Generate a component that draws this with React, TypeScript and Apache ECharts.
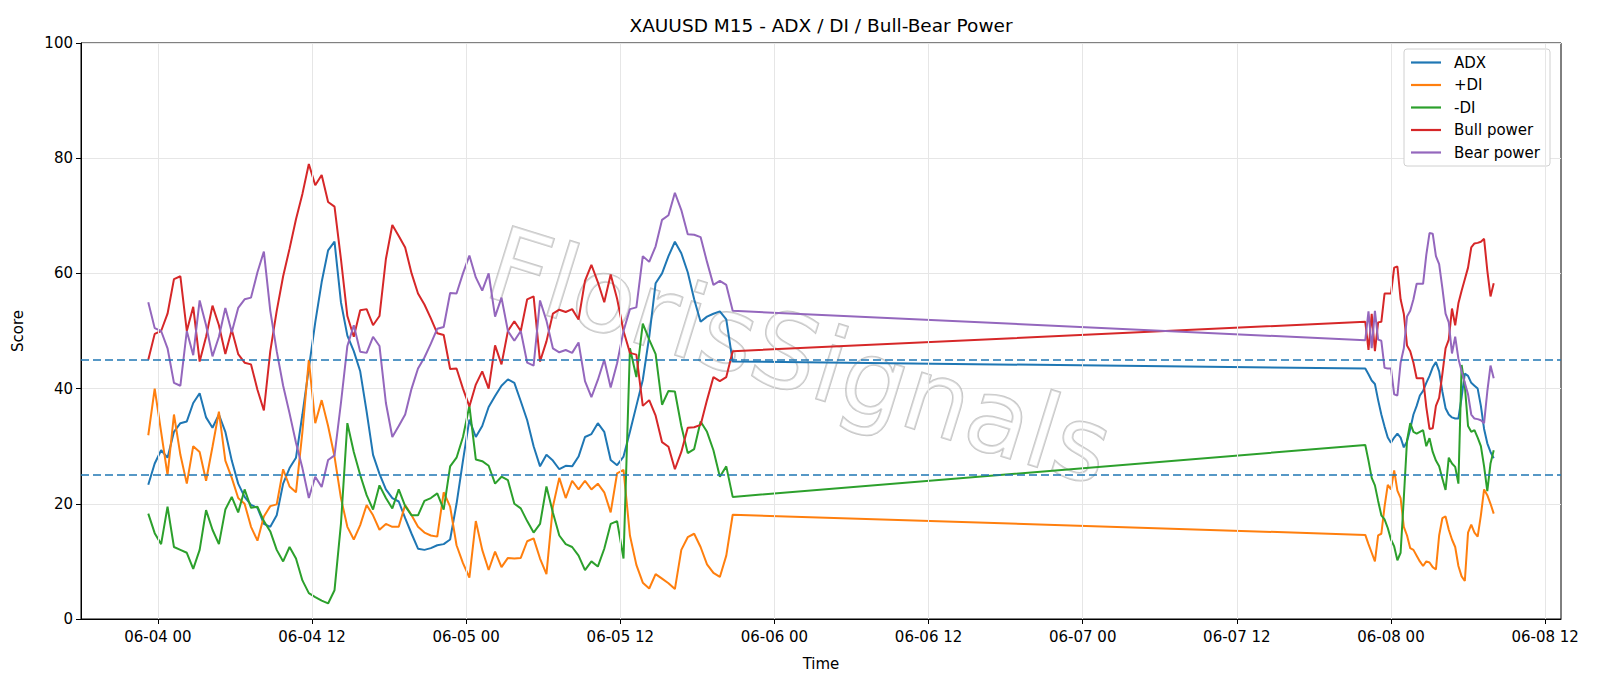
import React, { useEffect, useRef } from "react";
import * as echarts from "echarts";

// ---- time grid ----
const seg1Start = "2026-06-03T23:15:00Z"; // first part, 30-min samples
const seg1StepMin = 30;
const seg2Start = "2026-06-07T22:00:00Z"; // after the weekend gap, 15-min samples
const seg2StepMin = 15;

const xMin = "2026-06-03T18:00:45Z";
const xMax = "2026-06-08T13:14:15Z";
const xTicks = [
  "2026-06-04T00:00:00Z", "2026-06-04T12:00:00Z", "2026-06-05T00:00:00Z",
  "2026-06-05T12:00:00Z", "2026-06-06T00:00:00Z", "2026-06-06T12:00:00Z",
  "2026-06-07T00:00:00Z", "2026-06-07T12:00:00Z", "2026-06-08T00:00:00Z",
  "2026-06-08T12:00:00Z",
];
const yTicks = [0, 20, 40, 60, 80, 100];
const thresholds = [45, 25];

// ---- series values ----
const adx1 = [
  23.3, 27, 29.3, 28, 32.5, 34, 34.3, 37.5, 39.2, 35,
  33.2, 35.5, 32.5, 27.5, 23.5, 21.2, 19.8, 19.3, 16.5, 16,
  18, 23.5, 26.2, 28, 35.5, 43.5, 51.5, 58.5, 64, 65.5,
  55, 49.2, 46.5, 43, 36, 28.5, 25.2, 22.5, 21, 20.4,
  17.5, 14.8, 12.2, 12, 12.3, 12.8, 13, 13.8, 20, 27.5,
  34.6, 31.6, 33.5, 36.8, 38.7, 40.5, 41.6, 41, 37.8, 34.5,
  30, 26.5, 28.5, 27.5, 26, 26.6, 26.5, 28.2, 31.6, 32.1,
  34, 32.5, 27.6, 26.7, 28.2, 32.5, 37, 41.5, 49, 58.3,
  60, 63, 65.5, 63.5, 60.2, 55.5, 51.6, 52.5, 53, 53.4,
  52, 44.7,
];
const adx2 = [
  43.5, 42.5, 41.4, 40.8, 38, 35.5, 33.4, 31.5, 30.6, 31.5,
  32.2, 31.5, 29.8, 30.8, 33, 35.5, 37, 38.8, 39.6, 41,
  42.2, 43.7, 44.6, 43, 39.5, 36.6, 35.5, 35, 34.8, 34.8,
  38.5, 42.6, 42.2, 41, 40.5, 40, 37, 33, 30.5, 29,
  27.9,
];

const pdi1 = [
  31.9, 40, 32.5, 25, 35.5, 28.5, 23.5, 30, 29, 24,
  29.9, 36, 27.5, 24.5, 21, 20, 16, 13.6, 17.8, 19.6,
  19.9, 26, 23, 22, 32.5, 45, 34, 38, 33.5, 28.2,
  21, 16, 13.8, 16.3, 19.8, 18, 15.5, 16.5, 16, 16,
  19.8, 18, 16, 15, 14.5, 14.3, 22, 19.5, 12.8, 9.7,
  7.2, 17, 12, 8.5, 11.7, 9, 10.6, 10.5, 10.6, 13.5,
  14, 10.5, 7.8, 19.5, 24.5, 21, 24, 22.5, 24, 22.5,
  23.5, 22, 18.5, 25.3, 25.9, 14.5, 9.4, 6.3, 5.3, 7.8,
  7, 6.2, 5.2, 12, 14.2, 14.8, 12.5, 9.5, 8, 7.3,
  11, 18.1,
];
const pdi2 = [
  14.6, 13, 11.5, 10, 14.5, 14.8, 19.5, 23.3, 22.5, 25.8,
  22.3, 21, 16, 14.5, 12.3, 12, 11, 10, 9.2, 10,
  9.8, 9, 8.6, 14.5, 17.5, 17.8, 15.5, 13.8, 12.5, 9.2,
  7.4, 6.6, 15, 16.4, 15, 14.3, 18, 22.5, 21.5, 20,
  18.3,
];

const mdi1 = [
  18.3, 14.9, 13, 19.5, 12.5, 12, 11.5, 8.7, 12, 18.9,
  15.5, 13, 19, 21.2, 18.5, 22.5, 19.3, 19.5, 17, 15.2,
  12, 10, 12.5, 10.5, 6.7, 4.5, 3.8, 3.2, 2.7, 5,
  16.5, 34, 29, 25, 21.5, 19, 23.2, 21, 19.2, 22.5,
  19.6, 18, 18, 20.5, 21, 21.8, 19, 26.5, 28, 31.6,
  37, 27.7, 27.4, 26.6, 23.5, 24.7, 24.1, 20, 19.2, 17,
  15, 16.5, 23, 18.5, 14.5, 13, 12.5, 11, 8.5, 10,
  9.1, 12.2, 16.5, 17, 10.5, 47, 42, 51.3, 48.5, 46,
  37.2, 39.6, 39.5, 33.5, 28.8, 29.5, 34.3, 32.5, 29.3, 24.7,
  26.5, 21.2,
];
const mdi2 = [
  30.2, 27.5, 24.5, 23.2, 20.5, 18, 17.3, 15.8, 13.8, 12.6,
  10.2, 11.5, 21, 31, 34, 32.5, 32.2, 32.5, 32.8, 30,
  31.4, 29, 27.5, 26.5, 24.4, 22.4, 28, 27, 26.4, 23.5,
  44.1, 40.5, 33.5, 32.5, 32.8, 31.5, 30, 26.5, 22.2, 27,
  29.3,
];

const bull1 = [
  45, 49.5, 50, 53, 59, 59.5, 50, 54.2, 44.7, 49,
  54.4, 51, 46, 50.2, 46, 44.5, 44.2, 39.8, 36.2, 46.5,
  53.5, 59.5, 64.3, 69.4, 73.8, 79, 75.3, 77.1, 72.4, 71.6,
  62.5, 52.6, 49, 53.6, 53.8, 51, 52.6, 62.5, 68.4, 66.5,
  64.5, 60, 56.5, 54.6, 52.2, 49.6, 49.3, 43.4, 43.5, 40,
  36.9, 40.7, 43, 40, 47.5, 44.2, 50, 51.7, 50, 55.5,
  56, 44.7, 48.2, 53, 53.7, 53.3, 53.8, 52, 58.7, 61.5,
  58.5, 55, 59.8, 55.6, 50, 46.2, 45.9, 37, 38, 35.3,
  30.7, 29.9, 26, 29, 33.2, 33.3, 33.7, 38, 42, 41.3,
  42, 46.5,
];
const bull2 = [
  51.6, 46.7, 53, 46.5, 51.5, 51.6, 56.5, 56.5, 56.5, 61,
  61.2, 55.5, 53, 47.5, 46.5, 44.5, 41.8, 41.8, 41.8, 36.8,
  33, 33.1, 37, 38.4, 42.5, 47, 48.5, 53.9, 51, 54.8,
  57, 59, 61, 64.5, 65.2, 65.3, 65.5, 66, 60.5, 56,
  58.3,
];

const bear1 = [
  55, 50.5, 50, 47, 41, 40.5, 50, 45.8, 55.3, 51,
  45.6, 49, 54, 49.8, 54, 55.5, 55.8, 60.2, 63.8, 53.5,
  46.5, 40.5, 35.7, 30.6, 26.2, 21, 24.7, 22.9, 27.6, 28.4,
  37.5, 47.4, 51, 46.4, 46.2, 49, 47.4, 37.5, 31.6, 33.5,
  35.5, 40, 43.5, 45.4, 47.8, 50.4, 50.7, 56.6, 56.5, 60,
  63.1, 59.3, 57, 60, 52.5, 55.8, 50, 48.3, 50, 44.5,
  44, 55.3, 51.8, 47, 46.3, 46.7, 46.2, 48, 41.3, 38.5,
  41.5, 45, 40.2, 44.4, 50, 53.8, 54.1, 63, 62, 64.7,
  69.3, 70.1, 74, 71, 66.8, 66.7, 66.3, 62, 58, 58.7,
  58, 53.5,
];
const bear2 = [
  48.4, 53.4, 47, 53.5, 48.5, 48.3, 43.6, 43.5, 43.5, 39,
  38.8, 44.5, 47, 52.5, 53.5, 55.5, 58.2, 58.2, 58.2, 63.2,
  67, 66.9, 63, 61.6, 57.5, 53, 51.5, 46.1, 49, 45.2,
  43, 41, 39, 35.5, 34.8, 34.7, 34.5, 34, 39.5, 44,
  41.8,
];

const seriesNames = ["ADX", "+DI", "-DI", "Bull power", "Bear power"];
const seriesColors = ["#1f77b4", "#ff7f0e", "#2ca02c", "#d62728", "#9467bd"];
const seriesValues = [
  [adx1, adx2],
  [pdi1, pdi2],
  [mdi1, mdi2],
  [bull1, bull2],
  [bear1, bear2],
];

const FONT = "DejaVu Sans";

function buildTimes(start: string, stepMin: number, n: number): number[] {
  const t0 = Date.parse(start);
  const out: number[] = [];
  for (let k = 0; k < n; k++) out.push(t0 + k * stepMin * 60000);
  return out;
}

function pad(n: number) {
  return n < 10 ? "0" + n : "" + n;
}

export default function App() {
  const ref = useRef<HTMLDivElement>(null);

  useEffect(() => {
    if (!ref.current) return;
    const chart = echarts.init(ref.current, undefined, { renderer: "svg" });

    const t1 = buildTimes(seg1Start, seg1StepMin, adx1.length);
    const t2 = buildTimes(seg2Start, seg2StepMin, adx2.length);
    const times = t1.concat(t2);
    const tickVals = xTicks.map((s) => Date.parse(s));

    const lineSeries = seriesNames.map((name, si) => {
      const vals = seriesValues[si][0].concat(seriesValues[si][1]);
      return {
        name,
        type: "line",
        symbol: "none",
        showSymbol: false,
        color: seriesColors[si],
        itemStyle: { color: seriesColors[si] },
        lineStyle: { width: 2, color: seriesColors[si] },
        z: 3,
        data: times.map((t, k) => [t, vals[k]]),
      };
    });

    const option: any = {
      animation: false,
      backgroundColor: "#ffffff",
      textStyle: { fontFamily: FONT },
      grid: {
        left: 81,
        top: 43,
        right: 39,
        bottom: 67,
        show: true,
        borderColor: "#000",
        borderWidth: 1,
        backgroundColor: "transparent",
      },
      graphic: [
        {
          type: "text",
          x: 821,
          y: 25,
          z: 10,
          style: {
            text: "XAUUSD M15 - ADX / DI / Bull-Bear Power",
            fontSize: 18.5,
            fontFamily: FONT,
            fill: "#000",
            align: "center",
            verticalAlign: "middle",
          },
        },
        {
          type: "text",
          x: 800,
          y: 356,
          rotation: -0.3,
          z: 1,
          silent: true,
          style: {
            text: "FlorisSignals",
            fontSize: 103,
            fontFamily: FONT,
            fill: "rgba(255,255,255,0.35)",
            stroke: "rgba(160,160,160,0.6)",
            lineWidth: 1.8,
            align: "center",
            verticalAlign: "middle",
          },
        },
      ],
      legend: {
        orient: "vertical",
        left: 1404,
        top: 49,
        padding: [6, 10, 6, 7],
        icon: "rect",
        itemWidth: 30,
        itemHeight: 2.2,
        itemGap: 7.5,
        data: seriesNames,
        backgroundColor: "#ffffff",
        borderColor: "#d0d0d0",
        borderWidth: 1,
        borderRadius: 3,
        textStyle: {
          fontSize: 15,
          fontFamily: FONT,
          color: "#000",
          lineHeight: 15,
          padding: [0, 0, 0, 8],
        },
      },
      xAxis: {
        type: "value",
        min: Date.parse(xMin),
        max: Date.parse(xMax),
        name: "Time",
        nameLocation: "middle",
        nameGap: 37,
        nameTextStyle: { fontSize: 15, color: "#000", fontFamily: FONT },
        axisLine: { show: true, onZero: false, lineStyle: { color: "#000", width: 1 } },
        axisTick: { show: true, length: 5, customValues: tickVals, lineStyle: { color: "#000" } },
        axisLabel: {
          show: true,
          customValues: tickVals,
          margin: 10,
          fontSize: 15,
          color: "#000",
          fontFamily: FONT,
          formatter: (v: number) => {
            const d = new Date(v);
            return `${pad(d.getUTCMonth() + 1)}-${pad(d.getUTCDate())} ${pad(d.getUTCHours())}`;
          },
        },
        splitLine: { show: false },
      },
      yAxis: {
        type: "value",
        min: yTicks[0],
        max: yTicks[yTicks.length - 1],
        interval: 20,
        name: "Score",
        nameLocation: "middle",
        nameGap: 56,
        nameRotate: 90,
        nameTextStyle: { fontSize: 15, color: "#000", fontFamily: FONT },
        axisLine: { show: true, lineStyle: { color: "#000", width: 1 } },
        axisTick: { show: true, length: 5, lineStyle: { color: "#000" } },
        axisLabel: { fontSize: 15, color: "#000", margin: 8, fontFamily: FONT },
        splitLine: { show: true, lineStyle: { color: "#e6e6e6", width: 1 } },
      },
      series: [
        {
          name: "vgrid",
          type: "line",
          data: [],
          z: 1,
          silent: true,
          markLine: {
            silent: true,
            symbol: ["none", "none"],
            label: { show: false },
            lineStyle: { color: "#e6e6e6", width: 1, type: "solid" },
            emphasis: { disabled: true },
            data: tickVals.map((v) => ({ xAxis: v })),
          },
        },
        ...lineSeries,
        {
          name: "thresholds",
          type: "line",
          data: [],
          z: 4,
          silent: true,
          markLine: {
            silent: true,
            symbol: ["none", "none"],
            label: { show: false },
            lineStyle: { color: "#1f77b4", width: 1.5, type: [8, 4] },
            emphasis: { disabled: true },
            data: thresholds.map((v) => ({ yAxis: v })),
          },
        },
      ],
    };

    chart.setOption(option);
    return () => chart.dispose();
  }, []);

  return (
    <div
      ref={ref}
      style={{ position: "absolute", left: 0, top: 0, width: 1600, height: 686 }}
    />
  );
}
